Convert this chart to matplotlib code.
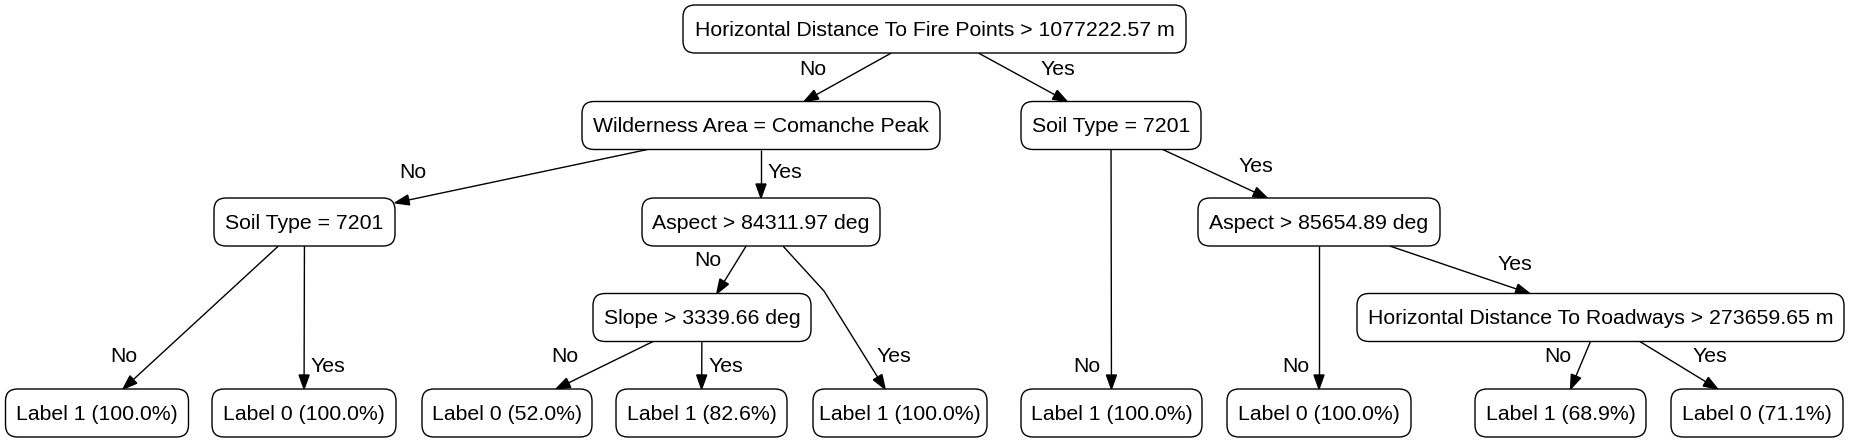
import matplotlib
matplotlib.use("Agg")
import matplotlib.pyplot as plt
from matplotlib.patches import FancyBboxPatch, Polygon
import numpy as np

# ---- data -------------------------------------------------------------
node_ids = ["root", "wild", "soilR", "soilL", "asp1", "asp2", "slope", "hdr",
            "L1", "L2", "L3", "L4", "L5", "L6", "L7", "L8", "L9"]
node_labels = [
    "Horizontal Distance To Fire Points > 1077222.57 m",
    "Wilderness Area = Comanche Peak",
    "Soil Type = 7201",
    "Soil Type = 7201",
    "Aspect > 84311.97 deg",
    "Aspect > 85654.89 deg",
    "Slope > 3339.66 deg",
    "Horizontal Distance To Roadways > 273659.65 m",
    "Label 1 (100.0%)", "Label 0 (100.0%)", "Label 0 (52.0%)",
    "Label 1 (82.6%)", "Label 1 (100.0%)", "Label 1 (100.0%)",
    "Label 0 (100.0%)", "Label 1 (68.9%)", "Label 0 (71.1%)",
]
edge_parents = ["root", "root", "wild", "wild", "soilL", "soilL", "asp1", "asp1",
                "slope", "slope", "soilR", "soilR", "asp2", "asp2", "hdr", "hdr"]
edge_children = ["wild", "soilR", "soilL", "asp1", "L1", "L2", "slope", "L5",
                 "L3", "L4", "L6", "asp2", "L7", "hdr", "L8", "L9"]
edge_labels = ["No", "Yes", "No", "Yes", "No", "Yes", "No", "Yes",
               "No", "Yes", "No", "Yes", "No", "Yes", "No", "Yes"]

# ---- layout (pixels) --------------------------------------------------
node_cx = [934.5, 761, 1111, 304.5, 761, 1319, 702, 1600.5,
           97, 304, 507, 701.5, 900, 1111.5, 1319, 1560.5, 1757]
node_cy = [29, 125.5, 125.5, 222, 222, 222, 317.5, 317.5] + [413] * 9
node_w = [503, 358, 180, 181, 238, 242, 218, 487,
          183, 184, 170, 171, 174, 181, 184, 171, 172]
node_h = 48
label_pos = [(813, 69), (1058, 69), (413, 173), (785, 173), (124, 356), (328, 366),
             (708, 260), (894, 356), (565, 357), (726, 366), (1087, 366), (1256, 166),
             (1296, 366), (1515, 264), (1558, 357), (1710, 357)]
waypoints = {("asp1", "L5"): (824, 291)}

W, H = 1851, 443
fig = plt.figure(figsize=(W / 100, H / 100), dpi=100)
ax = fig.add_axes([0, 0, 1, 1])
ax.set_xlim(0, W)
ax.set_ylim(H, 0)
ax.axis("off")

FONT = "Liberation Sans"
FS = 15.3
pos = {n: (x, y, w) for n, x, y, w in zip(node_ids, node_cx, node_cy, node_w)}

for n, lab in zip(node_ids, node_labels):
    x, y, w = pos[n]
    box = FancyBboxPatch((x - w / 2, y - node_h / 2), w, node_h,
                         boxstyle="round,pad=0,rounding_size=12",
                         fc="white", ec="black", lw=1.0, zorder=2)
    ax.add_patch(box)
    ax.text(x, y + 1, lab, ha="center", va="center", fontsize=FS,
            family=FONT, zorder=3)


def clip(center, w, other):
    # intersect segment center->other with box border
    cx, cy = center
    dx, dy = other[0] - cx, other[1] - cy
    ts = []
    if dx != 0:
        ts.append((w / 2) / abs(dx))
    if dy != 0:
        ts.append((node_h / 2) / abs(dy))
    t = min(ts)
    return (cx + dx * t, cy + dy * t)


HL, HW = 14, 10
for p, c, lab, lp in zip(edge_parents, edge_children, edge_labels, label_pos):
    px, py, pw = pos[p]
    cx, cy, cw = pos[c]
    wp = waypoints.get((p, c))
    first_target = wp if wp else (cx, cy)
    last_src = wp if wp else (px, py)
    start = clip((px, py), pw, first_target)
    end = clip((cx, cy), cw, last_src)
    pts = [start] + ([wp] if wp else []) + [end]
    # arrowhead
    sx, sy = pts[-2]
    ex, ey = end
    d = np.array([ex - sx, ey - sy], float)
    d /= np.hypot(*d)
    base = np.array([ex, ey]) - d * HL
    pts[-1] = tuple(base)
    xs, ys = zip(*pts)
    ax.plot(xs, ys, color="black", lw=1.0, zorder=1, solid_capstyle="butt")
    perp = np.array([-d[1], d[0]])
    tri = [tuple(base + perp * HW / 2), (ex, ey), tuple(base - perp * HW / 2)]
    ax.add_patch(Polygon(tri, closed=True, fc="black", ec="black", lw=1.0, zorder=1))
    ax.text(lp[0], lp[1], lab, ha="center", va="center", fontsize=FS,
            family=FONT, zorder=3)

fig.savefig("out.png", dpi=100, facecolor="white")
